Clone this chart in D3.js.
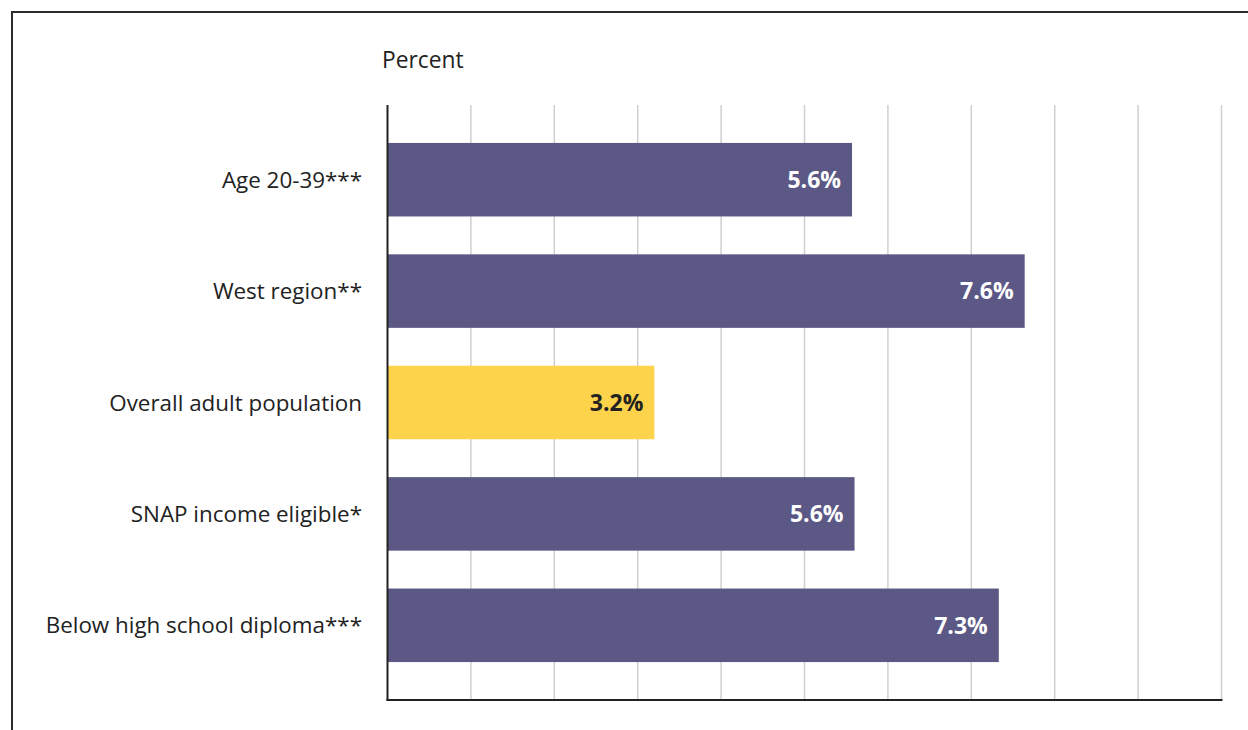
<!DOCTYPE html>
<html>
<head>
<meta charset="utf-8">
<script src="https://cdn.jsdelivr.net/npm/d3@7"></script>
<style>
html,body{margin:0;padding:0;background:#fff;}
svg{display:block;font-family:"Open Sans","Noto Sans",sans-serif;}
</style>
</head>
<body>
<svg id="chart" width="1248" height="730"></svg>
<script>
const categories = ["Age 20-39***", "West region**", "Overall adult population", "SNAP income eligible*", "Below high school diploma***"];
const values = [5.57, 7.64, 3.2, 5.6, 7.33];
const valueLabels = ["5.6%", "7.6%", "3.2%", "5.6%", "7.3%"];
const highlight = [false, false, true, false, false];
const gridTicks = [0,1,2,3,4,5,6,7,8,9,10];
const axisTitle = "Percent";

const svg = d3.select("#chart");
const W = 1248, H = 730;

// frame
svg.append("line").attr("x1",12).attr("x2",W).attr("y1",12).attr("y2",12).attr("stroke","#2b2b2b").attr("stroke-width",2);
svg.append("line").attr("x1",12).attr("x2",12).attr("y1",11).attr("y2",H).attr("stroke","#2b2b2b").attr("stroke-width",2);

const x0 = 387.5, x1 = 1221.5, yTop = 105, yBot = 700;
const x = d3.scaleLinear().domain([0,10]).range([x0,x1]);
const y = d3.scaleBand().domain(categories).range([124, 681]).paddingInner(0.34).paddingOuter(0.17);

// gridlines
svg.append("g").selectAll("line").data(gridTicks.slice(1)).join("line")
  .attr("x1",d=>x(d)).attr("x2",d=>x(d)).attr("y1",yTop).attr("y2",yBot)
  .attr("stroke","#cfcfcf").attr("stroke-width",1.5);

// bars
svg.append("g").selectAll("rect").data(categories).join("rect")
  .attr("x",x(0)).attr("y",d=>y(d))
  .attr("width",(d,i)=>x(values[i])-x(0))
  .attr("height",y.bandwidth())
  .attr("fill",(d,i)=>highlight[i] ? "#fdd34b" : "#5b5885");

// value labels
svg.append("g").selectAll("text").data(categories).join("text")
  .attr("x",(d,i)=>x(values[i])-11)
  .attr("y",d=>y(d)+y.bandwidth()/2)
  .attr("dy","0.36em")
  .attr("text-anchor","end")
  .attr("font-size",23).attr("font-weight",700)
  .attr("fill",(d,i)=>highlight[i] ? "#222" : "#fff")
  .text((d,i)=>valueLabels[i]);

// category labels
svg.append("g").selectAll("text").data(categories).join("text")
  .attr("x",362)
  .attr("y",d=>y(d)+y.bandwidth()/2)
  .attr("dy","0.36em")
  .attr("text-anchor","end")
  .attr("font-size",22.4)
  .attr("fill","#222")
  .text(d=>d);

// axes lines
svg.append("line").attr("x1",x0).attr("x2",x0).attr("y1",yTop).attr("y2",yBot+1).attr("stroke","#222").attr("stroke-width",2);
svg.append("line").attr("x1",x0-1).attr("x2",x1+1).attr("y1",yBot).attr("y2",yBot).attr("stroke","#222").attr("stroke-width",2);

// axis title
svg.append("text").attr("x",382).attr("y",68).attr("font-size",22.8).attr("fill","#222").text(axisTitle);
</script>
</body>
</html>
